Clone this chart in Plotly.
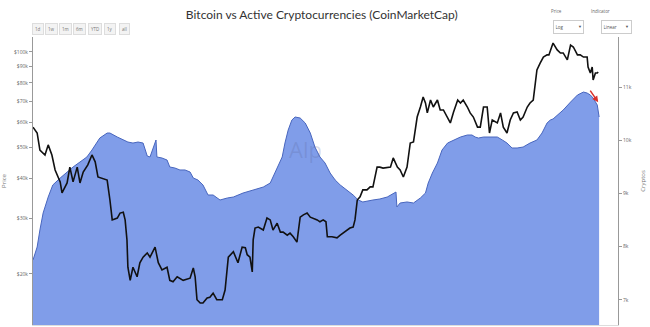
import plotly.graph_objects as go

# ---- data ----
btc_dates = [
    "2021-11-18", "2021-11-27", "2021-12-03", "2021-12-14", "2021-12-21", "2021-12-29",
    "2022-01-05", "2022-01-16", "2022-01-20", "2022-01-31", "2022-02-06", "2022-02-13",
    "2022-02-22", "2022-02-28", "2022-03-07", "2022-03-17", "2022-03-26", "2022-04-02",
    "2022-04-08", "2022-04-18", "2022-04-28", "2022-05-04", "2022-05-09", "2022-05-20",
    "2022-05-26", "2022-06-02", "2022-06-06", "2022-06-10", "2022-06-12", "2022-06-17",
    "2022-06-23", "2022-07-02", "2022-07-08", "2022-07-15", "2022-07-24", "2022-07-30",
    "2022-08-10", "2022-08-17", "2022-08-25", "2022-09-05", "2022-09-11", "2022-09-18",
    "2022-09-27", "2022-10-10", "2022-10-25", "2022-11-01", "2022-11-05", "2022-11-09",
    "2022-11-16", "2022-11-22", "2022-12-01", "2022-12-07", "2022-12-14", "2022-12-22",
    "2023-01-03", "2023-01-09", "2023-01-14", "2023-01-16", "2023-01-27", "2023-02-06",
    "2023-02-15", "2023-02-22", "2023-02-26", "2023-03-04", "2023-03-09", "2023-03-11",
    "2023-03-15", "2023-03-22", "2023-04-02", "2023-04-10", "2023-04-17", "2023-04-23",
    "2023-05-02", "2023-05-09", "2023-05-15", "2023-05-24", "2023-05-30", "2023-06-06",
    "2023-06-14", "2023-06-21", "2023-06-28", "2023-07-06", "2023-07-13", "2023-07-19",
    "2023-07-28", "2023-08-03", "2023-08-10", "2023-08-16", "2023-08-19", "2023-08-29",
    "2023-09-09", "2023-09-16", "2023-09-22", "2023-10-01", "2023-10-07", "2023-10-14",
    "2023-10-18", "2023-10-23", "2023-10-29", "2023-11-04", "2023-11-13", "2023-11-20",
    "2023-11-26", "2023-12-05", "2023-12-11", "2023-12-18", "2023-12-27", "2024-01-03",
    "2024-01-09", "2024-01-18", "2024-01-24", "2024-01-31", "2024-02-08", "2024-02-15",
    "2024-02-22", "2024-03-01", "2024-03-08", "2024-03-14", "2024-03-19", "2024-03-23",
    "2024-03-30", "2024-04-05", "2024-04-14", "2024-04-20", "2024-04-27", "2024-05-06",
    "2024-05-12", "2024-05-19", "2024-05-28", "2024-06-03", "2024-06-09", "2024-06-18",
    "2024-06-24", "2024-07-01", "2024-07-10", "2024-07-16", "2024-07-23", "2024-07-31",
    "2024-08-05", "2024-08-11", "2024-08-22", "2024-08-29", "2024-09-04", "2024-09-12",
    "2024-09-19", "2024-09-26", "2024-10-04", "2024-10-11", "2024-10-17", "2024-10-26",
    "2024-11-01", "2024-11-08", "2024-11-12", "2024-11-16", "2024-11-23", "2024-11-30",
    "2024-12-08", "2024-12-12", "2024-12-21", "2024-12-30", "2025-01-06", "2025-01-12",
    "2025-01-21", "2025-01-28", "2025-02-03", "2025-02-12", "2025-02-18", "2025-02-25",
    "2025-03-05", "2025-03-07", "2025-03-12", "2025-03-16", "2025-03-18", "2025-03-23",
    "2025-03-27", "2025-03-29",
]
btc_price = [
    58000, 55600, 49100, 47400, 51000, 47400,
    42500, 39000, 36000, 38700, 43400, 39000,
    43400, 38700, 41900, 44100, 47400, 45100,
    40400, 40000, 39500, 34200, 29600, 30000,
    31100, 31300, 29600, 25600, 21000, 19100,
    21000, 19600, 21700, 22600, 23300, 22600,
    24300, 21700, 20600, 21000, 19100, 18900,
    19600, 19100, 19400, 20900, 19600, 16600,
    16200, 16200, 16800, 16900, 17400, 16600,
    16600, 17800, 20600, 22600, 23500, 21700,
    24300, 24200, 23000, 22600, 20300, 25600,
    27900, 28100, 27500, 30000, 29600, 27500,
    28900, 27100, 27100, 26500, 26900, 26200,
    25200, 30200, 30700, 31100, 30200, 30000,
    29600, 29200, 29600, 29200, 26200, 26200,
    26000, 26500, 26900, 27500, 27900, 28100,
    29600, 34200, 35000, 36800, 36800, 37600,
    37600, 43400, 43400, 43100, 43400, 43400,
    46400, 43400, 42500, 40400, 43400, 51700,
    52100, 62400, 67100, 72200, 69100, 64300,
    70600, 67100, 70600, 65700, 65700, 62400,
    59800, 64700, 70600, 69100, 70600, 67100,
    64300, 62400, 58000, 58000, 67100, 67100,
    55600, 61100, 59800, 64300, 58000, 55600,
    61100, 64300, 64700, 61100, 62400, 67100,
    69100, 70600, 77600, 87800, 92300, 96400,
    97900, 97900, 106700, 101500, 99300, 99300,
    94400, 105200, 103700, 97900, 97900, 96400,
    96400, 89700, 85900, 89700, 81600, 85900,
    85900, 86500,
]

crypto_dates = [
    "2021-11-18", "2021-11-27", "2021-12-03", "2021-12-10", "2021-12-21", "2021-12-31",
    "2022-01-16", "2022-01-31", "2022-02-13", "2022-02-28", "2022-03-15", "2022-03-26",
    "2022-04-02", "2022-04-12", "2022-04-28", "2022-05-04", "2022-05-20", "2022-06-02",
    "2022-06-12", "2022-06-23", "2022-07-04", "2022-07-15", "2022-07-24", "2022-07-30",
    "2022-08-05", "2022-08-12", "2022-08-14", "2022-08-25", "2022-09-05", "2022-09-11",
    "2022-09-22", "2022-10-03", "2022-10-14", "2022-10-25", "2022-11-01", "2022-11-11",
    "2022-11-22", "2022-12-03", "2022-12-14", "2022-12-29", "2023-01-14", "2023-01-27",
    "2023-02-17", "2023-03-11", "2023-04-02", "2023-04-17", "2023-04-23", "2023-05-04",
    "2023-05-13", "2023-05-19", "2023-05-26", "2023-06-03", "2023-06-10", "2023-06-21",
    "2023-07-02", "2023-07-13", "2023-07-23", "2023-08-03", "2023-08-14", "2023-08-25",
    "2023-09-05", "2023-09-16", "2023-10-01", "2023-10-14", "2023-10-25", "2023-11-04",
    "2023-11-26", "2023-12-11", "2023-12-27", "2024-01-13", "2024-01-15", "2024-01-17",
    "2024-01-24", "2024-02-08", "2024-02-22", "2024-03-08", "2024-03-19", "2024-03-25",
    "2024-04-03", "2024-04-14", "2024-04-24", "2024-05-06", "2024-05-19", "2024-06-03",
    "2024-06-18", "2024-06-28", "2024-07-05", "2024-07-12", "2024-07-23", "2024-08-02",
    "2024-08-13", "2024-08-22", "2024-09-02", "2024-09-12", "2024-09-23", "2024-10-04",
    "2024-10-17", "2024-11-01", "2024-11-16", "2024-11-27", "2024-12-08", "2024-12-15",
    "2024-12-21", "2025-01-12", "2025-01-28", "2025-02-12", "2025-02-25", "2025-03-05",
    "2025-03-12", "2025-03-18", "2025-03-27", "2025-03-31",
]
crypto_count = [
    7751, 7995, 8315, 8634, 8934, 9160,
    9291, 9404, 9498, 9592, 9686, 9817,
    9911, 10042, 10136, 10136, 10061, 10005,
    9967, 9948, 9967, 9948, 9704, 9686,
    9855, 10005, 9686, 9667, 9629, 9498,
    9479, 9442, 9442, 9404, 9291, 9254,
    9160, 8972, 8972, 8878, 8916, 8934,
    9009, 9066, 9122, 9197, 9310, 9498,
    9686, 9948, 10193, 10380, 10437, 10418,
    10324, 10136, 9873, 9686, 9573, 9385,
    9254, 9160, 9066, 8972, 8878, 8841,
    8878, 8897, 8934, 9009, 9028, 8747,
    8822, 8841, 8822, 8916, 9009, 9197,
    9385, 9573, 9817, 9948, 10005, 10061,
    10099, 10099, 10061, 10042, 10061, 10061,
    10061, 10061, 10005, 9948, 9855, 9855,
    9873, 9948, 10005, 10136, 10324, 10380,
    10400, 10568, 10718, 10850, 10906, 10887,
    10850, 10793, 10662, 10437,
]

price_tickvals = [20000, 30000, 40000, 50000, 60000, 70000, 80000, 90000, 100000]
price_ticktext = ["$20k", "$30k", "$40k", "$50k", "$60k", "$70k", "$80k", "$90k", "$100k"]
crypto_tickvals = [7000, 8000, 9000, 10000, 11000]
crypto_ticktext = ["7k", "8k", "9k", "10k", "11k"]

range_labels = ["1d", "1w", "1m", "6m", "YTD", "1y", "all"]
range_label_x = [0.0094, 0.0316, 0.0556, 0.0803, 0.106, 0.1316, 0.1556]

title_text = "Bitcoin vs Active Cryptocurrencies (CoinMarketCap)"

fig = go.Figure()

fig.add_trace(go.Scatter(
    x=crypto_dates, y=crypto_count, name="Cryptos", yaxis="y",
    mode="lines", fill="tozeroy",
    line=dict(color="rgb(72,102,190)", width=1),
    fillcolor="rgb(128,157,233)",
))
fig.add_trace(go.Scatter(
    x=btc_dates, y=btc_price, name="Price", yaxis="y2",
    mode="lines", line=dict(color="#111111", width=1.6),
))

annotations = []
# range-selector style buttons
for lab, xp in zip(range_labels, range_label_x):
    annotations.append(dict(
        text=lab, xref="paper", yref="paper", x=xp, y=1.0295,
        xanchor="center", yanchor="middle", showarrow=False,
        font=dict(size=4.5, color="#777"),
        bgcolor="#f3f3f3", bordercolor="#ddd", borderwidth=1, borderpad=2,
    ))
# dropdown-like controls
annotations += [
    dict(text="Price", xref="paper", yref="paper", x=0.908, y=1.09,
         yanchor="middle", showarrow=False, font=dict(size=4.5, color="#666")),
    dict(text="Indicator", xref="paper", yref="paper", x=0.99, y=1.09,
         yanchor="middle", showarrow=False, font=dict(size=4.5, color="#666")),
    dict(text="Log", xref="paper", yref="paper", x=0.9154, y=1.036,
         xanchor="center", yanchor="middle", showarrow=False, width=26, height=9,
         align="left", valign="middle", font=dict(size=4.5, color="#555"),
         bgcolor="white", bordercolor="#ccc", borderwidth=1, borderpad=1.5),
    dict(text="▼", xref="paper", yref="paper", x=0.9345, y=1.036,
         xanchor="center", yanchor="middle", showarrow=False,
         font=dict(size=4, color="#555")),
    dict(text="Linear", xref="paper", yref="paper", x=0.9966, y=1.036,
         xanchor="center", yanchor="middle", showarrow=False, width=26, height=9,
         align="left", valign="middle", font=dict(size=4.5, color="#555"),
         bgcolor="white", bordercolor="#ccc", borderwidth=1, borderpad=1.5),
    dict(text="▼", xref="paper", yref="paper", x=1.0157, y=1.036,
         xanchor="center", yanchor="middle", showarrow=False,
         font=dict(size=4, color="#555")),
    dict(text="Alp", xref="paper", yref="paper", x=0.465, y=0.61,
         showarrow=False, font=dict(size=22, color="rgba(90,100,150,0.22)")),
    dict(x="2025-03-29", y=4.842, xref="x", yref="y2", text="",
         showarrow=True, arrowhead=2, arrowsize=0.8, arrowwidth=1.5,
         arrowcolor="#d9312b", ax=-9, ay=-13),
]

fig.update_layout(
    width=650, height=327,
    margin=dict(l=33, r=32, t=37, b=2),
    paper_bgcolor="white", plot_bgcolor="white",
    showlegend=False,
    font=dict(family="Open Sans", color="#555"),
    title=dict(text=title_text, x=0.495, xanchor="center", y=0.955, yanchor="middle",
               font=dict(family="Lato", size=12, color="#333")),
    xaxis=dict(
        range=["2021-11-18", "2025-05-11"],
        showgrid=False, zeroline=False, showticklabels=False,
        showline=True, linecolor="#ddd",
    ),
    yaxis=dict(
        side="right", range=[6530, 11940],
        tickvals=crypto_tickvals, ticktext=crypto_ticktext,
        tickfont=dict(size=5, color="#666"),
        ticks="outside", ticklen=3, tickcolor="#999",
        showgrid=False, zeroline=False,
        showline=True, linecolor="#999", linewidth=1,
        title=dict(text="Cryptos", font=dict(size=6, color="#777"), standoff=10),
    ),
    yaxis2=dict(
        side="left", overlaying="y", type="log",
        range=[4.1404, 5.0472],
        tickvals=price_tickvals, ticktext=price_ticktext,
        tickfont=dict(size=5, color="#666"),
        ticks="outside", ticklen=3, tickcolor="#999",
        showgrid=False, zeroline=False,
        showline=True, linecolor="#999", linewidth=1,
        title=dict(text="Price", font=dict(size=6, color="#777"), standoff=8),
    ),
    annotations=annotations,
)

fig.write_html("out.html")
